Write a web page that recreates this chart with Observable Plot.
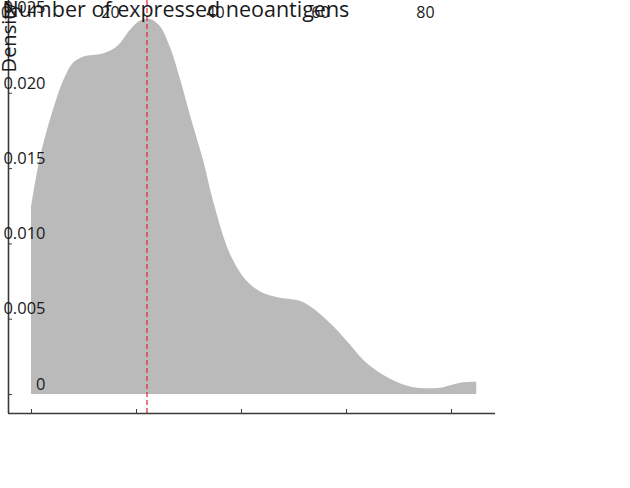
<!DOCTYPE html>
<html><head>
<meta charset="utf-8">
<script src="https://cdn.jsdelivr.net/npm/d3@7"></script>
<script src="https://cdn.jsdelivr.net/npm/@observablehq/plot@0.6"></script>
<style>body{margin:0;background:#fff}</style>
</head><body><div id="chart"></div>
<script>
const xs = [0, 1.7, 4.2, 6.1, 8.0, 9.9, 13.7, 16.4, 18.9, 20.8, 22.7, 24.6, 26.5, 28.4, 30.3, 32.8, 34.7, 37.9, 41.1, 44.2, 47.4, 51.2, 53.7, 57.0, 60.2, 63.2, 66.5, 69.7, 72.8, 75.5, 77.9, 80.4, 82.3, 84.8];
const ys = [0.0124, 0.0157, 0.0189, 0.0208, 0.0220, 0.0224, 0.0226, 0.0231, 0.0242, 0.0248, 0.0249, 0.0244, 0.0230, 0.0209, 0.0185, 0.0155, 0.0128, 0.0093, 0.0075, 0.0067, 0.0064, 0.0062, 0.0057, 0.0047, 0.0035, 0.0023, 0.0014, 0.0008, 0.00045, 0.00038, 0.00042, 0.00064, 0.00078, 0.00082];
const median = 22;
const xTicks = [0, 20, 40, 60, 80];
const yTicks = [0, 0.005, 0.010, 0.015, 0.020, 0.025];
const yTickLabels = ["0", "0.005", "0.010", "0.015", "0.020", "0.025"];
const xLabel = "Number of expressed neoantigens";
const yLabel = "Density";

const data = xs.map((x, i) => ({x, y: ys[i]}));
const xDom = [-4.38, 88.38];
const yDom = [-0.00126, 0.02616];
const ink = "#1a1a1a";

const plot = Plot.plot({
  width: 630, height: 488,
  marginLeft: 8, marginRight: 135, marginTop: 0, marginBottom: 75,
  x: {domain: xDom, axis: null},
  y: {domain: yDom, axis: null},
  style: {fontFamily: "'Open Sans', sans-serif", background: "#fff", color: ink},
  marks: [
    Plot.areaY(data, {x: "x", y: "y", fill: "#bababa", curve: "catmull-rom"}),
    Plot.ruleX([median], {stroke: "#e0203c", strokeDasharray: "5,3", strokeWidth: 1.2}),
    Plot.ruleX([xDom[0]], {stroke: "#3a3a3a", strokeWidth: 1.6}),
    Plot.ruleY([yDom[0]], {stroke: "#3a3a3a", strokeWidth: 1.6}),
    Plot.tickX(xTicks, {x: d => d, stroke: "#3a3a3a", insetTop: 409}),
    Plot.tickY(yTicks, {y: d => d, stroke: "#3a3a3a", insetRight: 483}),
    Plot.text(xTicks, {x: d => d, text: d => String(d), frameAnchor: "top", dx: -26, dy: 6, fontSize: 16, fill: ink}),
    Plot.text(yTicks, {y: d => d, text: (d, i) => yTickLabels[i], frameAnchor: "left", textAnchor: "end", dx: 37, dy: -10, fontSize: 16.5, fill: ink}),
    Plot.text([xLabel], {text: d => d, frameAnchor: "top-left", textAnchor: "start", lineAnchor: "top", dx: -6, dy: 1, fontSize: 21.5, fill: ink}),
    Plot.text([yLabel], {text: d => d, frameAnchor: "top-left", rotate: -90, textAnchor: "middle", lineAnchor: "middle", dx: 1, dy: 37, fontSize: 20, fill: ink})
  ]
});
document.getElementById("chart").append(plot);
</script>
</body></html>
